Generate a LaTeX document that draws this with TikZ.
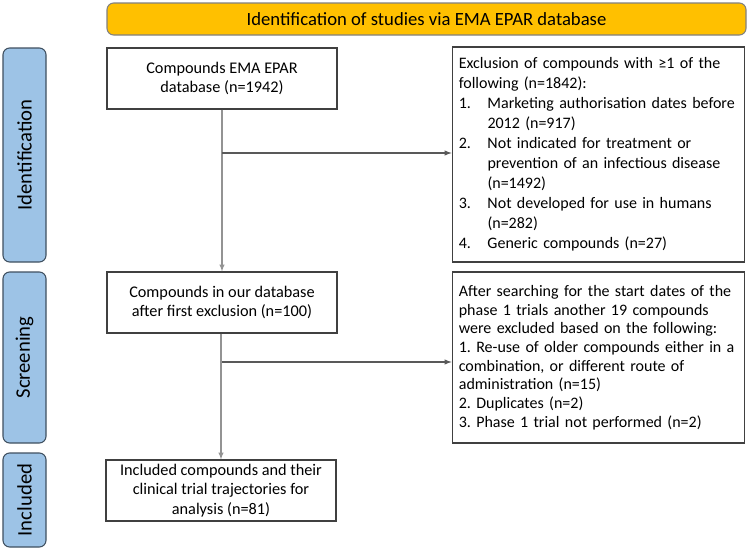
\documentclass[tikz,border=0pt]{standalone}
\usepackage{fontspec}
\setmainfont{Carlito}
\frenchspacing
\definecolor{titleorange}{HTML}{FFC000}
\definecolor{sideblue}{HTML}{9DC3E6}
\definecolor{sideedge}{HTML}{3F4F5F}
\definecolor{boxedge}{HTML}{404040}
\begin{document}
\begin{tikzpicture}[x=0.75pt, y=-0.75pt,
    stagebox/.style={draw=boxedge, thick, fill=white, align=center, inner sep=2pt,
        minimum width=172.5pt, minimum height=45.75pt, font=\fontsize{12.2}{14.5}\selectfont},
    exclbox/.style={draw=boxedge, thick, fill=white, align=left, inner sep=5pt,
        text width=209.5pt, font=\fontsize{12}{14}\selectfont},
    phase/.style={draw=sideedge, thick, fill=sideblue, rounded corners=5pt, rotate=90,
        minimum height=32.25pt, font=\fontsize{15.5}{17}\selectfont},
    flow/.style={draw=gray!85, thick, -latex},
    branch/.style={draw=black!65, thick, -latex}]
    \useasboundingbox (0,0) rectangle (750,550);

    \node[draw=gray, thick, fill=titleorange, rounded corners=5pt, minimum width=479.25pt,
        minimum height=24pt, font=\fontsize{14}{16}\selectfont] (title) at (426.5,19)
        {Identification of studies via EMA EPAR database};

    \node[phase, minimum width=160.5pt] (ident) at (24.5,155) {Identification};
    \node[phase, minimum width=128.25pt] (screen) at (24.5,357.5) {Screening};
    \node[phase, minimum width=70.5pt] (incl) at (24.5,500) {Included};

    \node[stagebox] (ema) at (222,78.5) {Compounds EMA EPAR\\database (n=1942)};
    \node[stagebox] (ourdb) at (222,302.5) {Compounds in our database\\after first exclusion (n=100)};
    \node[stagebox] (final) at (221,490.5) {Included compounds and their\\clinical trial trajectories for\\analysis (n=81)};

    \node[exclbox, minimum height=161.25pt, font=\fontsize{12}{15}\selectfont] (excl1) at (598.5,154.5)
        {Exclusion of compounds with ≥1 of the\\
        following (n=1842):\\
        \makebox[21.5pt][l]{1.}Marketing authorisation dates before\\
        \hspace*{21.5pt}2012 (n=917)\\
        \makebox[21.5pt][l]{2.}Not indicated for treatment or\\
        \hspace*{21.5pt}prevention of an infectious disease\\
        \hspace*{21.5pt}(n=1492)\\
        \makebox[21.5pt][l]{3.}Not developed for use in humans\\
        \hspace*{21.5pt}(n=282)\\
        \makebox[21.5pt][l]{4.}Generic compounds (n=27)};
    \node[exclbox, minimum height=128.25pt] (excl2) at (598.5,357.5)
        {After searching for the start dates of the\\
        phase 1 trials another 19 compounds\\
        were excluded based on the following:\\
        1. Re-use of older compounds either in a\\
        combination, or different route of\\
        administration (n=15)\\
        2. Duplicates (n=2)\\
        3. Phase 1 trial not performed (n=2)};

    \coordinate (fork1) at (222,153);
    \coordinate (fork2) at (222,362);

    \draw[flow] (ema) -- (ourdb);
    \draw[flow] (ourdb.south -| final.north) -- (final);
    \draw[branch] (fork1) -- (fork1 -| excl1.west);
    \draw[branch] (fork2) -- (fork2 -| excl2.west);
\end{tikzpicture}
\end{document}
